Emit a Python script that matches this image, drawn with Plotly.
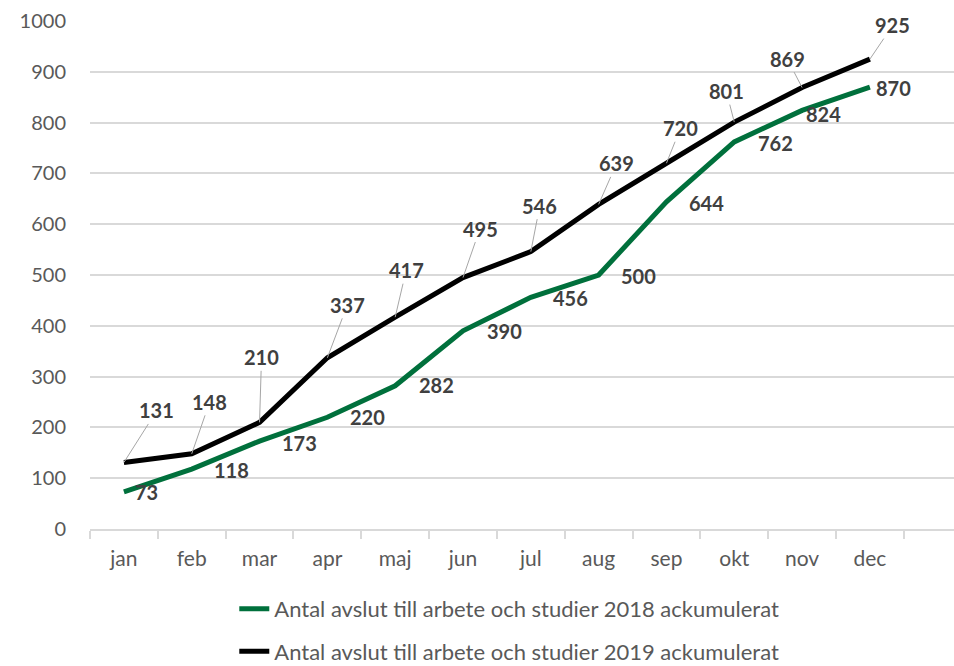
import plotly.graph_objects as go

months = ["jan", "feb", "mar", "apr", "maj", "jun", "jul", "aug", "sep", "okt", "nov", "dec"]
series_2018 = [73, 118, 173, 220, 282, 390, 456, 500, 644, 762, 824, 870]
series_2019 = [131, 148, 210, 337, 417, 495, 546, 639, 720, 801, 869, 925]
name_2018 = "Antal avslut till arbete och studier 2018 ackumulerat"
name_2019 = "Antal avslut till arbete och studier 2019 ackumulerat"
y_ticks = [0, 100, 200, 300, 400, 500, 600, 700, 800, 900, 1000]

# label offsets in pixels (style only)
off_2018 = [(23, 0), (40, 1), (40, 2), (40, 0), (41, -1), (41, 0), (40, 1), (40, 1),
            (40, 1), (41, 1), (21, 4), (24, 1)]
off_2019 = [(33, -52), (18, -52), (2, -65), (20, -53), (11, -47), (17, -49), (9, -46),
            (18, -41), (14, -35), (-8, -31), (-15, -29), (23, -34)]

GREEN = "#00703C"
FONT = "Lato"

fig = go.Figure()
fig.add_trace(go.Scatter(x=months, y=series_2018, mode="lines", name=name_2018,
                         legendgroup="a",
                         line=dict(color=GREEN, width=5)))
fig.add_trace(go.Scatter(x=months, y=series_2019, mode="lines", name=name_2019,
                         legendgroup="b",
                         line=dict(color="#000000", width=5)))

annotations = []
for m, v, (dx, dy) in zip(months, series_2018, off_2018):
    annotations.append(dict(x=m, y=v, xref="x", yref="y", text=str(v), showarrow=False,
                            xshift=dx, yshift=-dy,
                            font=dict(family=FONT, size=20, color="#404040", weight="bold")))
for m, v, (dx, dy) in zip(months, series_2019, off_2019):
    annotations.append(dict(x=m, y=v, xref="x", yref="y", text=str(v), showarrow=True,
                            arrowhead=0, arrowwidth=1, arrowcolor="#A6A6A6",
                            ax=dx, ay=dy, axref="pixel", ayref="pixel", standoff=0,
                            font=dict(family=FONT, size=20, color="#404040", weight="bold")))

fig.update_layout(
    width=954, height=666,
    margin=dict(l=90, r=0, t=21, b=137, autoexpand=False),
    paper_bgcolor="white", plot_bgcolor="white",
    font=dict(family=FONT, color="#595959", size=20),
    showlegend=True,
    legend=dict(orientation="v", x=0.167, xanchor="left", y=-0.116, yanchor="top",
                font=dict(family=FONT, size=22, color="#595959"),
                tracegroupgap=11, bgcolor="rgba(0,0,0,0)"),
    annotations=annotations,
)
fig.update_xaxes(type="category", range=[-0.5, 12.24], showgrid=False, automargin=False,
                 showline=True, linecolor="#D9D9D9", linewidth=2,
                 ticks="outside", tickson="boundaries", ticklen=8, tickcolor="#D9D9D9",
                 tickwidth=2, tickfont=dict(family=FONT, size=21, color="#595959"),
                 ticklabelstandoff=10)
fig.update_yaxes(range=[0, 1000], tickvals=y_ticks, showgrid=True, gridcolor="#D9D9D9",
                 gridwidth=2, zeroline=False, showline=False, ticks="", automargin=False,
                 tickfont=dict(family=FONT, size=20, color="#595959"), ticklabelstandoff=23)

fig.write_html("out.html", config={"displayModeBar": False},
               post_script="document.body.style.margin='0';document.body.style.overflow='hidden';")
